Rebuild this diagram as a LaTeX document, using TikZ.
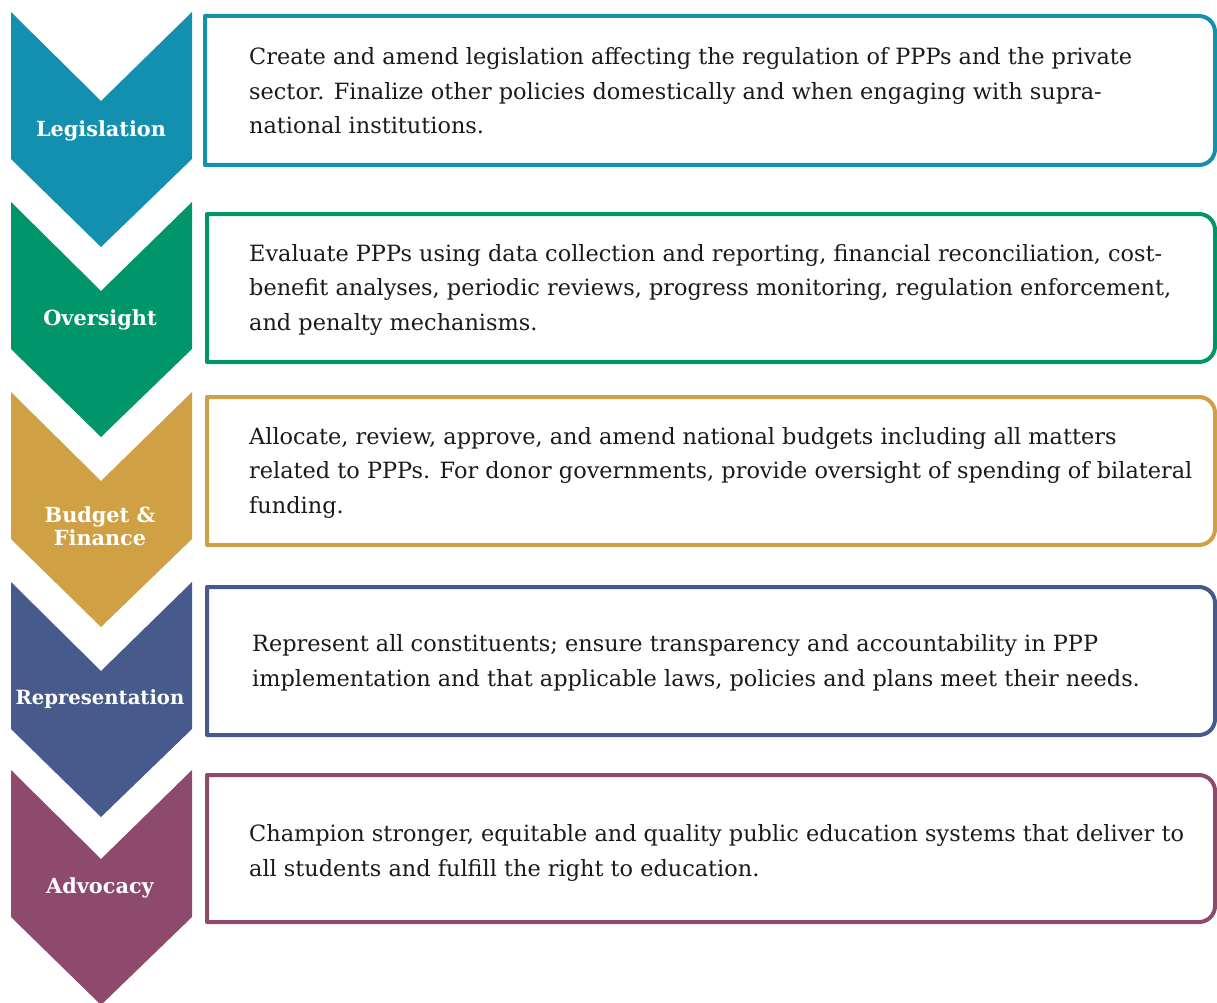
\documentclass[tikz,border=0pt]{standalone}
\usepackage{fontspec}
\setmainfont{DejaVu Serif}
\definecolor{cLeg}{HTML}{138FAF}
\definecolor{cOve}{HTML}{009669}
\definecolor{cBud}{HTML}{CFA044}
\definecolor{cRep}{HTML}{465B8C}
\definecolor{cAdv}{HTML}{8E4A6C}
\definecolor{ink}{HTML}{1A1A1A}
\begin{document}
\begin{tikzpicture}[x=1pt,y=-1pt,
  label/.style={text=white,font=\bfseries\fontsize{20.8}{23}\selectfont,align=center,inner sep=0pt},
  body/.style={text=ink,font=\fontsize{22.4}{34.5}\selectfont,align=left,anchor=base west,inner sep=0pt},
  frame/.style={line width=4pt,line join=round}]
\useasboundingbox (0,0) rectangle (1217,1003);
% chevron: #1 top y, #2 colour
\newcommand{\chev}[2]{%
  \fill[#2] (11,#1) -- (101,#1+89) -- (192,#1) -- (192,#1+147) -- (101,#1+235) -- (11,#1+147) -- cycle;}
% text frame: #1 left x, #2 top y, #3 bottom y, #4 colour
\newcommand{\tframe}[4]{%
  \draw[frame,#4] (#1,#3) -- (#1,#2) -- (1199,#2) arc(-90:0:16) -- (1215,#3-16) arc(0:90:16) -- cycle;}
\chev{12}{cLeg}
\chev{202}{cOve}
\chev{392}{cBud}
\chev{582}{cRep}
\chev{770}{cAdv}
\tframe{205}{16}{165}{cLeg}
\tframe{207}{214}{362}{cOve}
\tframe{207}{397}{545}{cBud}
\tframe{207}{587}{735}{cRep}
\tframe{207}{775}{922}{cAdv}
\node[label] (lLeg) at (101,131) {Legislation};
\node[label] (lOve) at (100,320) {Oversight};
\node[label] (lBud) at (100,526) {Budget \&\\Finance};
\node[label,font=\bfseries\fontsize{19.6}{23}\selectfont] (lRep) at (100,699) {Representation};
\node[label] (lAdv) at (100,888) {Advocacy};
% each text node is placed by the baseline of its last line
\node[body] (tLeg) at (249,134) {Create and amend legislation affecting the regulation of PPPs and the private\\sector. Finalize other policies domestically and when engaging with supra-\\national institutions.};
\node[body] (tOve) at (249,330) {Evaluate PPPs using data collection and reporting, financial reconciliation, cost-\\benefit analyses, periodic reviews, progress monitoring, regulation enforcement,\\and penalty mechanisms.};
\node[body] (tBud) at (249,513) {Allocate, review, approve, and amend national budgets including all matters\\related to PPPs. For donor governments, provide oversight of spending of bilateral\\funding.};
\node[body] (tRep) at (252,686) {Represent all constituents; ensure transparency and accountability in PPP\\implementation and that applicable laws, policies and plans meet their needs.};
\node[body] (tAdv) at (249,876) {Champion stronger, equitable and quality public education systems that deliver to\\all students and fulfill the right to education.};
\end{tikzpicture}
\end{document}
